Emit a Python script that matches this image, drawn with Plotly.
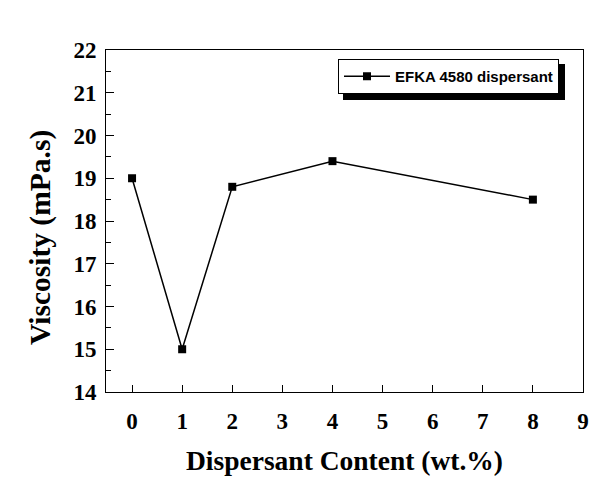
import plotly.graph_objects as go

content = [0, 1, 2, 4, 8]
viscosity = [19.0, 15.0, 18.8, 19.4, 18.5]
series_name = "EFKA 4580 dispersant"
x_ticks = list(range(0, 10))
y_ticks = list(range(14, 23))
x_title = "Dispersant Content (wt.%)"
y_title = "Viscosity (mPa.s)"

# page body has an 8px default margin; lay out in window pixels
OFF = 8
W, H = 611 - OFF, 492 - OFF
PL, PR, PT, PB = 106, 583, 50, 392   # plot box in window pixels
L, T = PL - OFF, PT - OFF
R, B = W - (PR - OFF), H - (PB - OFF)
pw, ph = PR - PL, PB - PT

def px_x(p):
    return (p - PL) / pw

def px_y(p):
    return (PB - p) / ph

LEG_TOP, LEG_H, LEG_L, LEG_W = 59, 36, 338, 222

fig = go.Figure()
fig.add_trace(go.Scatter(
    x=content, y=viscosity, mode="lines+markers", name=series_name,
    line=dict(color="black", width=1.5),
    marker=dict(symbol="square", size=8, color="black"),
))

tick_font = dict(family="Liberation Serif", size=23, color="black")

fig.update_layout(
    width=W, height=H,
    margin=dict(l=L, r=R, t=T, b=B),
    paper_bgcolor="white", plot_bgcolor="white",
    showlegend=True,
    legend=dict(
        x=px_x(LEG_L), y=px_y(LEG_TOP), xanchor="left", yanchor="top",
        bgcolor="white", bordercolor="black", borderwidth=1,
        font=dict(family="Liberation Sans", size=15, color="black", weight="bold"),
        itemwidth=46, tracegroupgap=0,
    ),
    shapes=[dict(
        type="rect", xref="paper", yref="paper",
        x0=px_x(LEG_L + 5), x1=px_x(LEG_L + LEG_W + 5),
        y0=px_y(LEG_TOP + LEG_H + 5), y1=px_y(LEG_TOP + 5),
        fillcolor="black", line=dict(width=0), layer="above",
    )],
    annotations=[dict(
        text=y_title, textangle=-90, xref="paper", yref="paper",
        x=px_x(40), y=px_y(238), xanchor="center", yanchor="middle",
        showarrow=False,
        font=dict(family="Liberation Serif", size=29.5, color="black", weight="bold"),
    )],
)

fig.update_xaxes(
    range=[-0.52, 9], tickvals=x_ticks, ticks="inside", ticklen=7, tickwidth=1,
    tickcolor="black", showline=True, linecolor="black", linewidth=1, mirror=True,
    showgrid=False, zeroline=False, automargin=False,
    tickfont=dict(**tick_font, weight="bold"), ticklabelstandoff=8,
    title=dict(text=x_title,
               font=dict(family="Liberation Serif", size=27.5, color="black", weight="bold"),
               standoff=18),
)
fig.update_yaxes(
    range=[14, 22], tickvals=y_ticks, ticks="inside", ticklen=8, tickwidth=1,
    tickcolor="black", showline=True, linecolor="black", linewidth=1, mirror=True,
    minor=dict(dtick=0.5, ticks="inside", ticklen=5, tickcolor="black", showgrid=False),
    showgrid=False, zeroline=False, automargin=False,
    tickfont=dict(**tick_font, weight="bold"), ticklabelstandoff=4,
)

fig.write_html("out.html")
